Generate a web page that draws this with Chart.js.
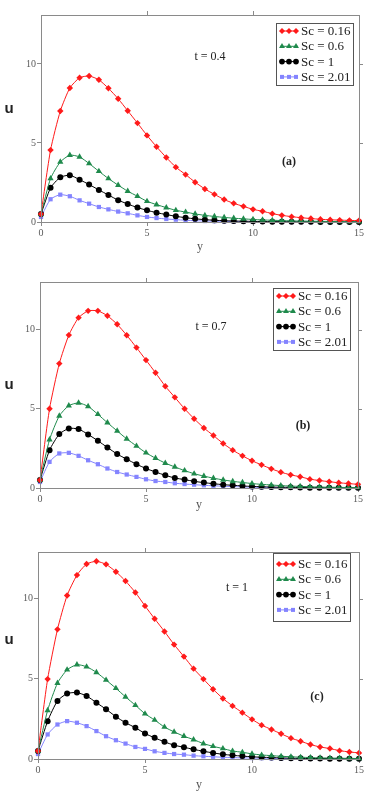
<!DOCTYPE html>
<html>
<head>
<meta charset="utf-8">
<script src="https://cdn.jsdelivr.net/npm/chart.js@4.4.1/dist/chart.umd.min.js"></script>
<style>
  body { margin: 0; background: #fff; width: 380px; height: 794px; position: relative; overflow: hidden; }
  canvas { position: absolute; left: 0; }
</style>
</head>
<body>
<canvas id="chartA" width="380" height="265" style="top:0px"></canvas>
<canvas id="chartB" width="380" height="260" style="top:270px"></canvas>
<canvas id="chartC" width="380" height="264" style="top:530px"></canvas>
<script>
// y positions of the computed points (34 nodes from 0 to 15)
const yPos = [0, 0.45, 0.91, 1.36, 1.82, 2.27, 2.73, 3.18, 3.64, 4.09, 4.55, 5, 5.45, 5.91, 6.36, 6.82, 7.27,
  7.73, 8.18, 8.64, 9.09, 9.55, 10, 10.45, 10.91, 11.36, 11.82, 12.27, 12.73, 13.18, 13.64, 14.09, 14.55, 15];
const scLabels = ["Sc = 0.16", "Sc = 0.6", "Sc = 1", "Sc = 2.01"];
const xTicks = [0, 5, 10, 15];
const uTicks = [0, 5, 10];

// (a) t = 0.4
const redA = [0.5, 4.55, 7.02, 8.48, 9.13, 9.24, 9.0, 8.46, 7.80, 7.04, 6.26, 5.48, 4.76, 4.08, 3.47, 3.0, 2.52,
  2.09, 1.75, 1.42, 1.18, 0.99, 0.80, 0.68, 0.53, 0.42, 0.34, 0.27, 0.22, 0.17, 0.14, 0.12, 0.10, 0.09];
const greenA = [0.5, 2.75, 3.8, 4.23, 4.12, 3.70, 3.21, 2.75, 2.33, 1.95, 1.63, 1.31, 1.10, 0.91, 0.74, 0.63, 0.51,
  0.42, 0.35, 0.29, 0.24, 0.20, 0.16, 0.13, 0.11, 0.09, 0.07, 0.06, 0.05, 0.04, 0.03, 0.03, 0.02, 0.02];
const blackA = [0.5, 2.16, 2.83, 2.96, 2.68, 2.37, 2.03, 1.71, 1.38, 1.14, 0.91, 0.74, 0.59, 0.47, 0.36, 0.27, 0.20,
  0.15, 0.11, 0.08, 0.06, 0.05, 0.04, 0.03, 0.02, 0.02, 0.01, 0.01, 0.01, 0, 0, 0, 0, 0];
const blueA = [0.32, 1.44, 1.73, 1.63, 1.37, 1.16, 0.95, 0.80, 0.66, 0.55, 0.42, 0.32, 0.25, 0.19, 0.15, 0.11, 0.08,
  0.06, 0.05, 0.04, 0.03, 0.02, 0.02, 0.01, 0.01, 0.01, 0, 0, 0, 0, 0, 0, 0, 0];

// (b) t = 0.7
const redB = [0.5, 5.0, 7.85, 9.65, 10.75, 11.18, 11.18, 10.87, 10.33, 9.64, 8.86, 8.07, 7.27, 6.42, 5.72, 5.0, 4.37,
  3.79, 3.31, 2.81, 2.39, 2.03, 1.72, 1.46, 1.21, 1.0, 0.83, 0.71, 0.56, 0.47, 0.40, 0.33, 0.28, 0.23];
const greenB = [0.5, 3.05, 4.55, 5.2, 5.37, 5.15, 4.65, 4.12, 3.6, 3.1, 2.65, 2.22, 1.88, 1.57, 1.33, 1.1, 0.9,
  0.75, 0.62, 0.51, 0.42, 0.35, 0.28, 0.23, 0.19, 0.15, 0.12, 0.10, 0.08, 0.06, 0.05, 0.04, 0.03, 0.03];
const blackB = [0.5, 2.39, 3.40, 3.76, 3.72, 3.38, 2.98, 2.56, 2.14, 1.82, 1.50, 1.23, 1.01, 0.80, 0.63, 0.53, 0.42,
  0.34, 0.27, 0.21, 0.17, 0.13, 0.10, 0.08, 0.06, 0.05, 0.04, 0.03, 0.02, 0.02, 0.01, 0.01, 0.01, 0.01];
const blueB = [0.38, 1.65, 2.18, 2.22, 2.03, 1.75, 1.50, 1.23, 1.01, 0.85, 0.70, 0.55, 0.44, 0.38, 0.30, 0.25, 0.21,
  0.17, 0.14, 0.11, 0.09, 0.07, 0.05, 0.04, 0.03, 0.03, 0.02, 0.02, 0.01, 0.01, 0.01, 0, 0, 0];

// (c) t = 1
const redC = [0.5, 4.98, 8.08, 10.19, 11.46, 12.15, 12.32, 12.13, 11.67, 11.09, 10.38, 9.54, 8.74, 7.95, 7.13, 6.38, 5.63,
  4.98, 4.35, 3.77, 3.31, 2.89, 2.47, 2.11, 1.84, 1.57, 1.30, 1.11, 0.90, 0.75, 0.65, 0.52, 0.44, 0.38];
const greenC = [0.5, 3.03, 4.73, 5.56, 5.88, 5.75, 5.40, 4.92, 4.41, 3.87, 3.35, 2.82, 2.43, 1.99, 1.69, 1.42, 1.21,
  0.96, 0.79, 0.65, 0.50, 0.42, 0.32, 0.25, 0.21, 0.17, 0.14, 0.11, 0.09, 0.07, 0.06, 0.05, 0.04, 0.03];
const blackC = [0.5, 2.36, 3.62, 4.08, 4.14, 3.93, 3.51, 3.10, 2.64, 2.26, 1.95, 1.59, 1.32, 1.07, 0.86, 0.73, 0.60,
  0.48, 0.38, 0.29, 0.23, 0.18, 0.14, 0.11, 0.09, 0.07, 0.05, 0.04, 0.03, 0.03, 0.02, 0.02, 0.01, 0.01];
const blueC = [0.31, 1.53, 2.15, 2.36, 2.26, 2.05, 1.74, 1.42, 1.17, 0.96, 0.75, 0.63, 0.48, 0.38, 0.31, 0.27, 0.21,
  0.17, 0.14, 0.11, 0.09, 0.07, 0.06, 0.05, 0.04, 0.03, 0.02, 0.02, 0.01, 0.01, 0.01, 0.01, 0, 0];

const styles = [
  { color: "#ff1a1a", point: "rectRot", r: 3.2 },
  { color: "#1f8a4c", point: "triangle", r: 3.6 },
  { color: "#000000", point: "circle", r: 3 },
  { color: "#8484ff", point: "rect", r: 3 },
];

const AXIS = "#8a8a8a";
const TICKTXT = "#5a5a5a";

function makeSets(series) {
  return series.map((vals, k) => ({
    label: scLabels[k],
    data: yPos.map((x, i) => ({ x: x, y: vals[i] })),
    borderColor: styles[k].color,
    backgroundColor: styles[k].color,
    pointStyle: styles[k].point,
    pointRadius: styles[k].r,
    pointBorderWidth: 0,
    borderWidth: 1,
    tension: 0.2,
    clip: 6,
  }));
}

// frame, outward ticks on top/right, legend and texts
const deco = {
  id: "deco",
  afterDraw(chart, args, o) {
    const ctx = chart.ctx;
    const a = chart.chartArea;
    const xs = chart.scales.x, ys = chart.scales.y;
    ctx.save();
    ctx.strokeStyle = AXIS;
    ctx.lineWidth = 1;
    ctx.strokeRect(Math.round(a.left) + 0.5, Math.round(a.top) + 0.5, Math.round(a.right - a.left), Math.round(a.bottom - a.top));
    ctx.beginPath();
    xTicks.slice(1, 3).forEach(v => {
      const px = Math.round(xs.getPixelForValue(v)) + 0.5;
      ctx.moveTo(px, a.top); ctx.lineTo(px, a.top - 4);
    });
    uTicks.slice(1).forEach(v => {
      const py = Math.round(ys.getPixelForValue(v)) + 0.5;
      ctx.moveTo(a.right, py); ctx.lineTo(a.right + 4, py);
    });
    ctx.stroke();

    // legend
    const L = o.legend;
    ctx.fillStyle = "#fff";
    ctx.fillRect(L.x, L.y, L.w, L.h);
    ctx.strokeStyle = "#555";
    ctx.strokeRect(L.x + 0.5, L.y + 0.5, L.w, L.h);
    const rowH = 15.3;
    chart.data.datasets.forEach((ds, k) => {
      const cy = L.y + L.top + k * rowH;
      ctx.strokeStyle = ds.borderColor;
      ctx.fillStyle = ds.backgroundColor;
      ctx.beginPath();
      ctx.moveTo(L.x + 4, cy); ctx.lineTo(L.x + 22, cy);
      ctx.stroke();
      [6, 13, 20].forEach(dx => {
        Chart.helpers.drawPoint(ctx, { pointStyle: ds.pointStyle, radius: ds.pointRadius * 0.95, rotation: 0, borderWidth: 0 }, L.x + dx, cy);
      });
      ctx.fillStyle = "#222";
      ctx.font = "13px 'Liberation Serif'";
      ctx.textAlign = "left";
      ctx.textBaseline = "middle";
      ctx.fillText(ds.label, L.x + 25, cy + 0.5);
    });

    // texts
    ctx.textAlign = "center";
    ctx.textBaseline = "middle";
    ctx.fillStyle = "#222";
    ctx.font = "bold 15px 'Liberation Sans'";
    ctx.fillText("u", o.u[0], o.u[1]);
    ctx.fillStyle = "#555";
    ctx.font = "12px 'Liberation Serif'";
    ctx.fillText("y", o.y[0], o.y[1]);
    ctx.fillStyle = "#222";
    ctx.fillText(o.t[0], o.t[1], o.t[2]);
    ctx.font = "bold 12px 'Liberation Serif'";
    ctx.fillText(o.tag[0], o.tag[1], o.tag[2]);
    ctx.restore();
  }
};

function makeChart(id, series, p) {
  const h = document.getElementById(id).height;
  return new Chart(document.getElementById(id), {
    type: "line",
    data: { datasets: makeSets(series) },
    plugins: [deco],
    options: {
      responsive: false,
      animation: false,
      layout: { padding: { top: p.top, right: 380 - p.right, left: 0, bottom: 0 } },
      plugins: {
        legend: { display: false },
        tooltip: { enabled: false },
        deco: p.deco,
      },
      scales: {
        x: {
          type: "linear",
          min: 0, max: 15,
          afterBuildTicks: s => { s.ticks = xTicks.map(v => ({ value: v })); },
          afterFit: s => { s.height = h - p.bottom; },
          grid: { drawOnChartArea: false, drawTicks: true, tickLength: 4, color: AXIS },
          border: { display: false },
          ticks: { color: TICKTXT, padding: 1, maxRotation: 0, font: { family: "Liberation Serif", size: 10 } },
        },
        y: {
          type: "linear",
          min: 0, max: p.max,
          afterBuildTicks: s => { s.ticks = uTicks.map(v => ({ value: v })); },
          afterFit: s => { s.width = p.left; },
          grid: { drawOnChartArea: false, drawTicks: true, tickLength: 4, color: AXIS },
          border: { display: false },
          ticks: { color: TICKTXT, padding: 1, font: { family: "Liberation Serif", size: 10 } },
        },
      },
    },
  });
}

makeChart("chartA", [redA, greenA, blackA, blueA], {
  left: 41, right: 359, top: 15, bottom: 222, max: 13.1,
  deco: { legend: { x: 276, y: 23, w: 77, h: 62, top: 8 }, u: [9, 109], y: [200, 247], t: ["t = 0.4", 210, 57], tag: ["(a)", 289, 162] },
});
makeChart("chartB", [redB, greenB, blackB, blueB], {
  left: 40, right: 358, top: 12, bottom: 218, max: 13.0,
  deco: { legend: { x: 273, y: 18, w: 77, h: 62, top: 8 }, u: [9, 115], y: [199, 235], t: ["t = 0.7", 211, 57], tag: ["(b)", 303, 156] },
});
makeChart("chartC", [redC, greenC, blackC, blueC], {
  left: 38, right: 359, top: 22, bottom: 229, max: 12.9,
  deco: { legend: { x: 273, y: 23, w: 77, h: 68, top: 11 }, u: [9, 110], y: [199, 255], t: ["t = 1", 237, 58], tag: ["(c)", 317, 167] },
});
</script>
</body>
</html>
